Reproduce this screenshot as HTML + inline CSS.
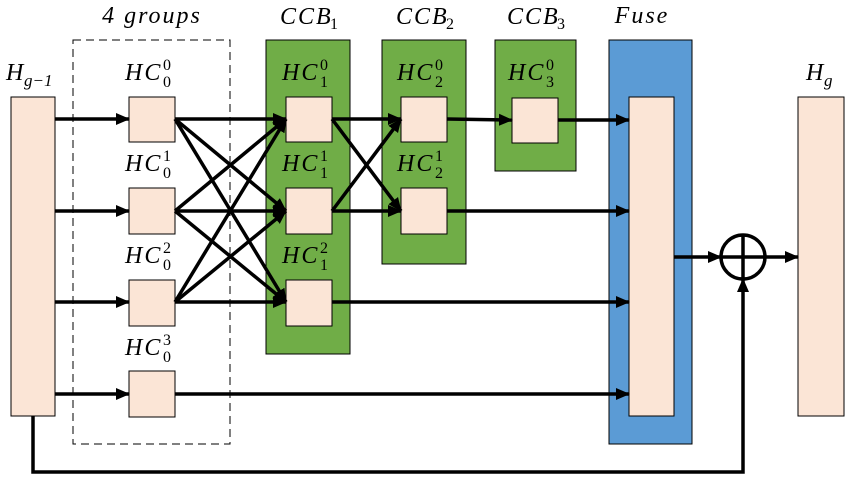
<!DOCTYPE html>
<html><head><style>body{margin:0;background:#fff}svg{display:block}text{font-family:"Liberation Serif",serif;font-style:italic;font-size:24px;fill:#000}.s{font-size:16px;font-style:normal}.i{font-size:17px;font-style:italic}.h{letter-spacing:2px}</style></head><body>
<svg width="850" height="485" viewBox="0 0 850 485" xmlns="http://www.w3.org/2000/svg">
<defs><marker id="a" markerWidth="14" markerHeight="14" refX="13" refY="6" orient="auto" markerUnits="userSpaceOnUse" viewBox="0 0 14 12"><path d="M0,0 L14,6 L0,12 z" fill="#000"/></marker></defs>
<rect x="73" y="40" width="157" height="404" fill="none" stroke="#000" stroke-dasharray="8,5"/>
<rect x="266" y="40" width="84" height="314" fill="#70ad47" stroke="#000"/>
<rect x="382" y="40" width="84" height="224" fill="#70ad47" stroke="#000"/>
<rect x="495" y="40" width="81" height="131" fill="#70ad47" stroke="#000"/>
<rect x="609" y="40" width="83" height="404" fill="#5b9bd5" stroke="#000"/>
<g fill="#fbe5d6" stroke="#000">
<rect x="11" y="97" width="44" height="319"/>
<rect x="129" y="97" width="46" height="45"/><rect x="129" y="188" width="46" height="46"/><rect x="129" y="280" width="46" height="46"/><rect x="129" y="371" width="46" height="46"/>
<rect x="286" y="97" width="46" height="45"/><rect x="286" y="188" width="46" height="46"/><rect x="286" y="280" width="46" height="46"/>
<rect x="401" y="97" width="46" height="45"/><rect x="401" y="188" width="46" height="46"/>
<rect x="512" y="98" width="46" height="45"/>
<rect x="629" y="97" width="45" height="319"/>
<rect x="798" y="97" width="46" height="319"/>
</g>
<g stroke="#000" stroke-width="3.5" fill="none" marker-end="url(#a)">
<line x1="55" y1="119" x2="129" y2="119"/><line x1="55" y1="211" x2="129" y2="211"/><line x1="55" y1="302" x2="129" y2="302"/><line x1="55" y1="394" x2="129" y2="394"/>
<line x1="175" y1="119" x2="286" y2="119"/><line x1="175" y1="119" x2="286" y2="211"/><line x1="175" y1="119" x2="286" y2="302"/>
<line x1="175" y1="211" x2="286" y2="119"/><line x1="175" y1="211" x2="286" y2="211"/><line x1="175" y1="211" x2="286" y2="302"/>
<line x1="175" y1="302" x2="286" y2="119"/><line x1="175" y1="302" x2="286" y2="211"/><line x1="175" y1="302" x2="286" y2="302"/>
<line x1="175" y1="394" x2="629" y2="394"/>
<line x1="332" y1="119" x2="401" y2="119"/><line x1="332" y1="119" x2="401" y2="211"/><line x1="332" y1="211" x2="401" y2="119"/><line x1="332" y1="211" x2="401" y2="211"/>
<line x1="332" y1="302" x2="629" y2="302"/>
<line x1="447" y1="119" x2="512" y2="120"/><line x1="447" y1="211" x2="629" y2="211"/>
<line x1="558" y1="120" x2="629" y2="120"/>
<line x1="674" y1="257" x2="721" y2="257"/>
<line x1="765" y1="257" x2="798" y2="257"/>
<polyline points="33,416 33,472 743,472 743,279"/>
</g>
<circle cx="743" cy="257" r="22" fill="none" stroke="#000" stroke-width="3.5"/>
<line x1="721" y1="257" x2="765" y2="257" stroke="#000" stroke-width="3.5"/>
<line x1="743" y1="235" x2="743" y2="279" stroke="#000" stroke-width="3.5"/>
<text x="152" y="23" text-anchor="middle" class="h">4 groups</text>
<text x="280" y="24" class="h">CCB</text><text x="330" y="29" class="s">1</text>
<text x="396" y="24" class="h">CCB</text><text x="446" y="29" class="s">2</text>
<text x="507" y="24" class="h">CCB</text><text x="557" y="29" class="s">3</text>
<text x="642" y="23" text-anchor="middle" class="h">Fuse</text>
<text x="6" y="80">H</text><text x="24" y="86" class="i">g−1</text>
<text x="806" y="80">H</text><text x="824" y="86" class="i">g</text>
<g>
<text x="125" y="80" class="h">HC</text><text x="163" y="87" class="s">0</text><text x="163" y="70" class="s">0</text>
<text x="125" y="171" class="h">HC</text><text x="163" y="178" class="s">0</text><text x="163" y="161" class="s">1</text>
<text x="125" y="263" class="h">HC</text><text x="163" y="270" class="s">0</text><text x="163" y="253" class="s">2</text>
<text x="125" y="355" class="h">HC</text><text x="163" y="362" class="s">0</text><text x="163" y="345" class="s">3</text>
<text x="282" y="80" class="h">HC</text><text x="320" y="87" class="s">1</text><text x="320" y="70" class="s">0</text>
<text x="282" y="171" class="h">HC</text><text x="320" y="178" class="s">1</text><text x="320" y="161" class="s">1</text>
<text x="282" y="263" class="h">HC</text><text x="320" y="270" class="s">1</text><text x="320" y="253" class="s">2</text>
<text x="397" y="80" class="h">HC</text><text x="435" y="87" class="s">2</text><text x="435" y="70" class="s">0</text>
<text x="397" y="171" class="h">HC</text><text x="435" y="178" class="s">2</text><text x="435" y="161" class="s">1</text>
<text x="508" y="80" class="h">HC</text><text x="546" y="87" class="s">3</text><text x="546" y="70" class="s">0</text>
</g>
</svg>
</body></html>
